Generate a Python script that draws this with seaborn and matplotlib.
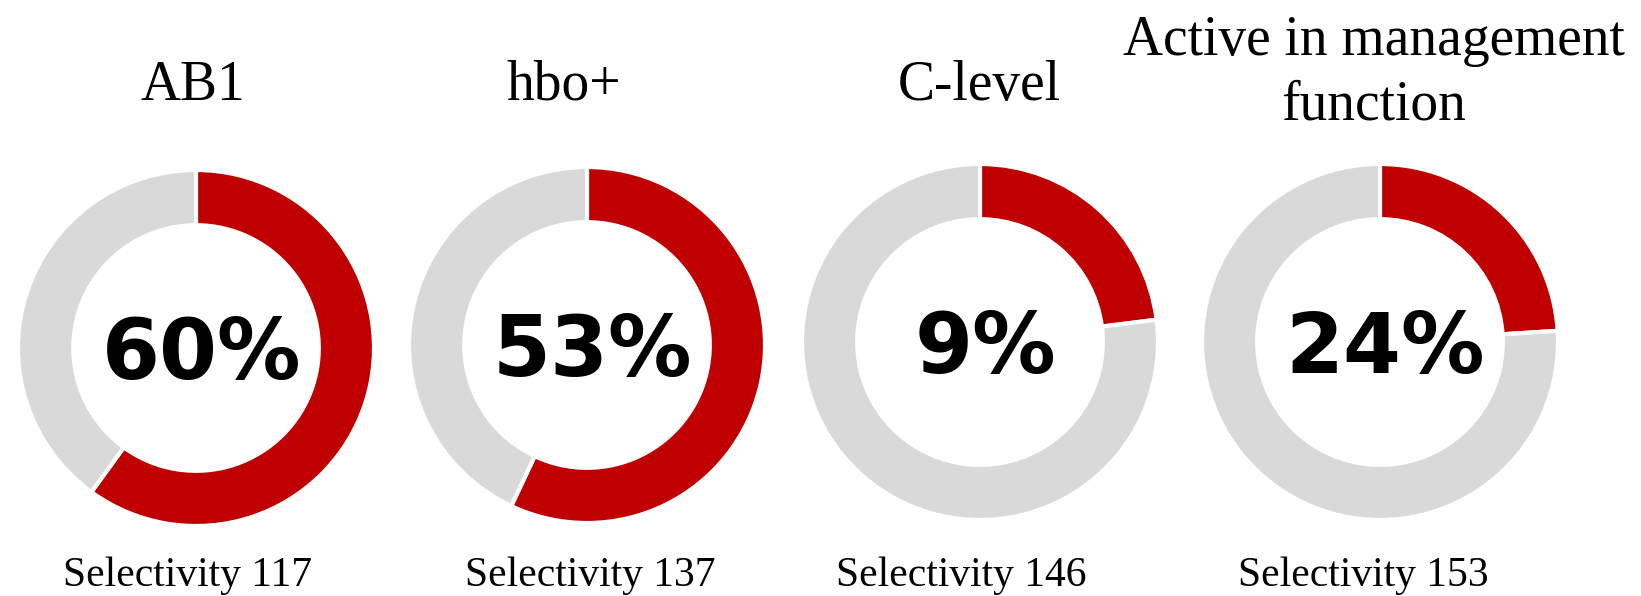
import matplotlib
matplotlib.use("Agg")
import matplotlib.pyplot as plt
import seaborn as sns

# data
categories = ["AB1", "hbo+", "C-level", "Active in management\nfunction"]
label_pct = [60, 53, 9, 24]        # number printed in the middle
ring_share = [60, 57, 23, 24]      # red arc as it is drawn
selectivity = [117, 137, 146, 153]

sns.set_theme(style="white")
plt.rcParams["font.family"] = ["DejaVu Sans"]
plt.rcParams["text.color"] = "black"

RED = "#C00000"
GREY = "#D9D9D9"
W, H = 1641, 596
R = 178

# layout in pixels (from top-left)
centers = [(196, 348), (587, 345), (980, 342), (1380, 342)]
title_pos = [(193, 86), (564, 86), (979, 86), (1374, 73)]
sel_x = [188, 590, 961, 1363]

fig = plt.figure(figsize=(W / 100, H / 100), dpi=100)

for i, cat in enumerate(categories):
    cx, cy = centers[i]
    ax = fig.add_axes([(cx - R) / W, (H - cy - R) / H, 2 * R / W, 2 * R / H])
    ax.pie([ring_share[i], 100 - ring_share[i]], colors=[RED, GREY],
           startangle=90, counterclock=False, radius=1,
           wedgeprops=dict(width=0.31, edgecolor="white", linewidth=3))
    ax.set_xlim(-1, 1)
    ax.set_ylim(-1, 1)
    ax.set_aspect("equal")
    ax.axis("off")
    ax.text(0.03, -0.04, f"{label_pct[i]}%", ha="center", va="center",
            fontsize=60, fontweight="bold", color="black")

    tx, ty = title_pos[i]
    fig.text(tx / W, 1 - ty / H, cat, ha="center", va="center",
             fontsize=40, family="Liberation Serif", linespacing=1.3)
    fig.text(sel_x[i] / W, 10 / H, f"Selectivity {selectivity[i]}",
             ha="center", va="baseline", fontsize=30, family="Liberation Serif")

fig.savefig("out.png", dpi=100)
